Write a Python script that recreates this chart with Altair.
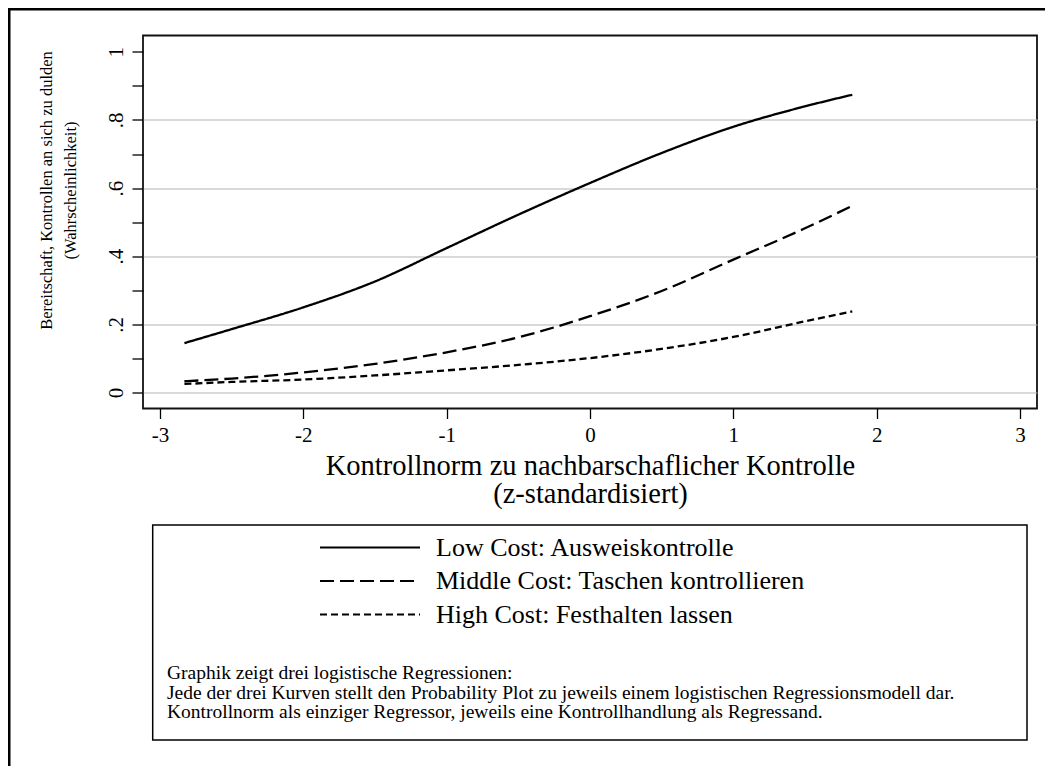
import altair as alt
import pandas as pd

# ---------------- data ----------------
x_vals = [-2.83, -2.5, -2.0, -1.5, -1.0, -0.5, 0.0, 0.5, 1.0, 1.5, 1.83]
low_cost = [0.145, 0.186, 0.250, 0.326, 0.424, 0.522, 0.615, 0.703, 0.780, 0.840, 0.874]
middle_cost = [0.033, 0.041, 0.059, 0.084, 0.118, 0.162, 0.224, 0.298, 0.390, 0.482, 0.548]
high_cost = [0.025, 0.031, 0.038, 0.050, 0.065, 0.081, 0.101, 0.128, 0.163, 0.209, 0.238]

series_names = [
    "Low Cost: Ausweiskontrolle",
    "Middle Cost: Taschen kontrollieren",
    "High Cost: Festhalten lassen",
]
y_tick_values = [0.0, 0.1, 0.2, 0.3, 0.4, 0.5, 0.6, 0.7, 0.8, 0.9, 1.0]
x_tick_values = [-3, -2, -1, 0, 1, 2, 3]

y_title = ["Bereitschaft, Kontrollen an sich zu dulden", "(Wahrscheinlichkeit)"]
x_title = ["Kontrollnorm zu nachbarschaflicher Kontrolle", "(z-standardisiert)"]
note_lines = [
    "Graphik zeigt drei logistische Regressionen:",
    "Jede der drei Kurven stellt den Probability Plot zu jeweils einem logistischen Regressionsmodell dar.",
    "Kontrollnorm als einziger Regressor, jeweils eine Kontrollhandlung als Regressand.",
]

rows = []
for name, vals in zip(series_names, [low_cost, middle_cost, high_cost]):
    for xv, yv in zip(x_vals, vals):
        rows.append({"x": xv, "p": yv, "series": name})
df = pd.DataFrame(rows)

FONT = "Liberation Serif"
W, H = 894, 373
PAD = {"left": 135, "top": 27.5, "right": 8, "bottom": 357.5}

xscale = alt.Scale(domain=[-3.119, 3.119], nice=False, zero=False)
yscale = alt.Scale(domain=[-0.047, 1.048], nice=False, zero=False)

one = pd.DataFrame({"k": [0]})

# outer frame of the whole graph
border = alt.Chart(one).mark_rect(fill="transparent", stroke="black", strokeWidth=3).encode(
    x=alt.value(-134), x2=alt.value(2000), y=alt.value(-26.5), y2=alt.value(2000)
)

y_label_expr = (
    "round(datum.value*10)%2 != 0 ? '' : datum.value > 0.99 ? '1' : "
    "datum.value < 0.01 ? '0' : replace(format(datum.value, '.1f'), '0.', '.')"
)
grid_hide = "datum.value > 0.9 || round(datum.value*10) % 2 != 0"

lines = alt.Chart(df).mark_line(strokeWidth=2.3, color="black", interpolate="monotone").encode(
    x=alt.X(
        "x:Q",
        scale=xscale,
        axis=alt.Axis(
            values=x_tick_values,
            labelExpr="datum.value < 0 ? '-' + abs(datum.value) : '' + datum.value",
            labelFont=FONT, labelFontSize=21, labelColor="black", labelPadding=6,
            tickSize=10, tickColor="black", tickWidth=1.3,
            domain=False, grid=False,
            title=x_title, titleFont=FONT, titleFontSize=28.5, titleFontWeight="normal",
            titleColor="black", titleLineHeight=28, titleY=43, titleBaseline="top",
        ),
    ),
    y=alt.Y(
        "p:Q",
        scale=yscale,
        axis=alt.Axis(
            values=y_tick_values,
            labelExpr=y_label_expr,
            labelAngle=270, labelAlign="center", labelBaseline="bottom",
            labelFont=FONT, labelFontSize=21, labelColor="black", labelPadding=6,
            tickSize=11, tickColor="black", tickWidth=1.3,
            domain=False,
            grid=True, gridColor="#b3b3b3", gridWidth=1.2,
            gridOpacity={"condition": {"test": grid_hide, "value": 0}, "value": 1},
            title=y_title, titleFont=FONT, titleFontSize=16.5, titleFontWeight="normal",
            titleColor="black", titleLineHeight=24, titleAngle=270,
            titleAlign="center", titleBaseline="top", titleX=-105, titleY=154.5,
        ),
    ),
    strokeDash=alt.StrokeDash(
        "series:N",
        scale=alt.Scale(domain=series_names, range=[[1, 0], [14, 6], [7, 4]]),
        legend=alt.Legend(
            title=None, orient="none", legendX=214, legendY=499, padding=0,
            symbolType="M-10,0H10", symbolSize=100, symbolStrokeWidth=2,
            symbolStrokeColor="black", symbolOpacity=1,
            labelFont=FONT, labelFontSize=26, labelColor="black", labelLimit=700,
            labelOffset=53, rowPadding=7.5,
        ),
    ),
)

legend_box = alt.Chart(one).mark_rect(fill="transparent", stroke="black", strokeWidth=1.5).encode(
    x=alt.value(9.7), x2=alt.value(884), y=alt.value(489.5), y2=alt.value(704.5)
)

note = alt.Chart(one).mark_text(
    align="left", baseline="top", font=FONT, fontSize=19.5, lineHeight=19.5, color="black"
).encode(x=alt.value(24), y=alt.value(628.5), text=alt.value(note_lines))

chart = (
    alt.layer(border, legend_box, lines, note)
    .properties(width=W, height=H, padding=PAD, autosize=alt.AutoSizeParams(type="none"))
    .configure(
        background="white",
        font=FONT,
        view=alt.ViewConfig(stroke="#111111", strokeWidth=1.8),
        legend=alt.LegendConfig(labelFont=FONT),
        axis=alt.AxisConfig(labelFont=FONT, titleFont=FONT),
    )
)

chart.save("out.html", embed_options={"renderer": "svg", "actions": False})
